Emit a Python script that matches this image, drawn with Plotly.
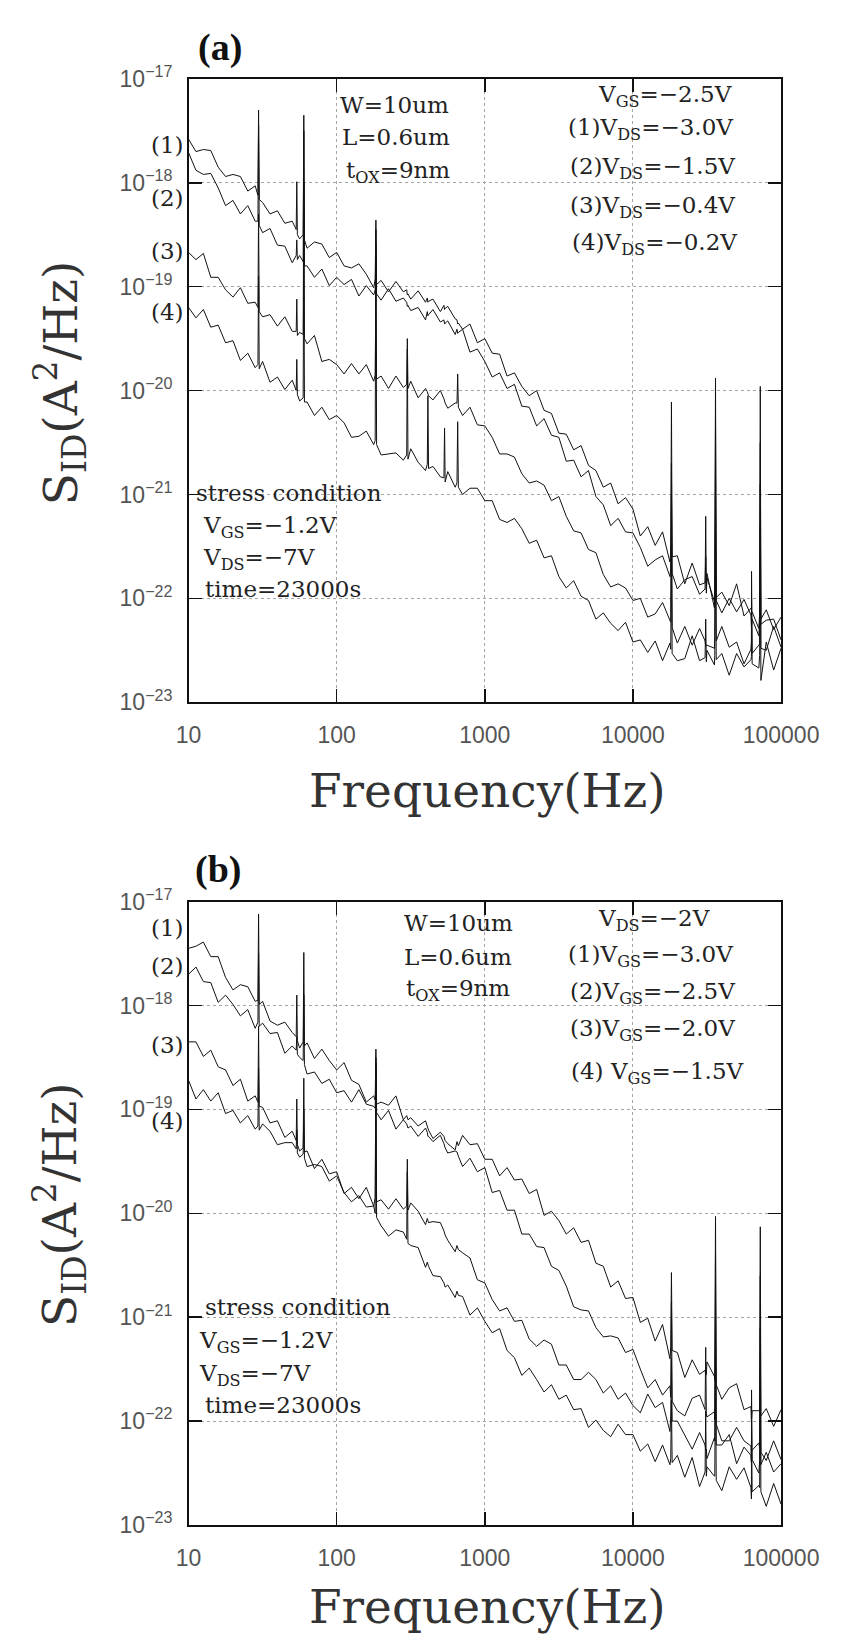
import plotly.graph_objects as go

# ---------------- data (log10 of S_ID in A^2/Hz) ----------------
FREQ = [10, 11.22, 12.59, 14.13, 15.85, 17.78, 19.95, 22.39, 25.12, 28.18,
        31.62, 35.48, 39.81, 44.67, 50.12, 56.23, 63.10, 70.79, 79.43, 89.13,
        100, 112.2, 125.9, 141.3, 158.5, 177.8, 199.5, 223.9, 251.2, 281.8,
        316.2, 354.8, 398.1, 446.7, 501.2, 562.3, 631.0, 707.9, 794.3, 891.3,
        1000, 1122, 1259, 1413, 1585, 1778, 1995, 2239, 2512, 2818,
        3162, 3548, 3981, 4467, 5012, 5623, 6310, 7079, 7943, 8913,
        10000, 11220, 12590, 14130, 15850, 17780, 19950, 22390, 25120, 28180,
        31620, 35480, 39810, 44670, 50120, 56230, 63100, 70790, 79430, 89130,
        100000]

SPIKE_FREQ = [29.4, 29.7, 30.0, 53.3, 53.8, 54.3, 59.4, 60.0, 60.6,
              182, 184, 186, 297, 300, 303, 409, 413, 417, 530, 535, 540,
              649, 656, 663, 18000, 18200, 18400, 30700, 31000, 31300,
              35700, 36100, 36500, 62600, 63200, 63800, 71700, 72400, 73100]

# panel (a): V_GS=-2.5V, (1) V_DS=-3.0V ... (4) V_DS=-0.2V
A1 = [-17.58, -17.70, -17.68, -17.69, -17.85, -17.94, -17.92, -17.94, -18.08, -18.03,
      -18.19, -18.30, -18.27, -18.39, -18.37, -18.54, -18.63, -18.57, -18.59, -18.72,
      -18.67, -18.80, -18.82, -18.78, -18.88, -19.01, -18.94, -19.05, -18.95, -19.05,
      -19.12, -19.04, -19.15, -19.12, -19.24, -19.19, -19.31, -19.41, -19.36, -19.54,
      -19.50, -19.64, -19.65, -19.86, -19.83, -19.96, -20.05, -20.00, -20.19, -20.22,
      -20.41, -20.42, -20.57, -20.53, -20.72, -20.77, -20.93, -20.89, -21.09, -21.03,
      -21.14, -21.40, -21.31, -21.49, -21.36, -21.65, -21.59, -21.86, -21.66, -21.87,
      -21.76, -22.09, -21.94, -22.07, -21.86, -22.17, -22.09, -22.29, -22.11, -22.30,
      -22.18]
A2 = [-17.71, -17.88, -17.92, -17.91, -18.05, -18.22, -18.17, -18.30, -18.22, -18.37,
      -18.48, -18.44, -18.60, -18.61, -18.77, -18.70, -18.80, -18.91, -18.83, -18.99,
      -18.91, -18.98, -18.93, -19.09, -18.99, -19.08, -19.13, -19.02, -19.14, -19.11,
      -19.23, -19.20, -19.32, -19.22, -19.34, -19.33, -19.46, -19.41, -19.63, -19.60,
      -19.72, -19.87, -19.83, -19.98, -19.94, -20.15, -20.16, -20.34, -20.27, -20.43,
      -20.45, -20.68, -20.67, -20.83, -20.77, -21.02, -21.10, -21.30, -21.23, -21.36,
      -21.37, -21.51, -21.69, -21.63, -21.59, -21.79, -21.91, -21.82, -21.79, -21.96,
      -21.80, -22.03, -22.14, -22.00, -22.13, -22.01, -22.27, -22.36, -22.21, -22.20,
      -22.40]
A3 = [-18.67, -18.74, -18.68, -18.91, -18.91, -19.03, -19.10, -19.01, -19.16, -19.15,
      -19.29, -19.27, -19.38, -19.29, -19.43, -19.44, -19.55, -19.47, -19.72, -19.70,
      -19.75, -19.84, -19.74, -19.84, -19.75, -19.91, -19.86, -19.98, -19.86, -19.97,
      -19.91, -20.07, -19.98, -20.09, -20.00, -20.17, -20.12, -20.24, -20.16, -20.33,
      -20.34, -20.45, -20.61, -20.61, -20.64, -20.80, -20.89, -20.87, -20.91, -21.06,
      -21.02, -21.21, -21.35, -21.37, -21.53, -21.56, -21.77, -21.89, -21.86, -21.90,
      -22.02, -22.00, -22.18, -22.15, -22.04, -22.20, -22.43, -22.27, -22.45, -22.29,
      -22.45, -22.48, -22.27, -22.47, -22.42, -22.63, -22.42, -22.45, -22.50, -22.27,
      -22.47]
A4 = [-19.20, -19.30, -19.22, -19.39, -19.37, -19.54, -19.52, -19.71, -19.64, -19.78,
      -19.72, -19.92, -19.87, -19.99, -19.90, -20.10, -20.11, -20.24, -20.16, -20.28,
      -20.24, -20.31, -20.45, -20.44, -20.39, -20.52, -20.62, -20.61, -20.60, -20.67,
      -20.56, -20.69, -20.77, -20.73, -20.83, -20.78, -20.93, -21.00, -20.94, -20.94,
      -21.06, -21.06, -21.24, -21.27, -21.23, -21.33, -21.47, -21.44, -21.61, -21.59,
      -21.79, -21.90, -21.83, -21.98, -22.02, -22.20, -22.14, -22.24, -22.31, -22.23,
      -22.42, -22.40, -22.52, -22.41, -22.60, -22.43, -22.60, -22.58, -22.36, -22.60,
      -22.50, -22.64, -22.53, -22.74, -22.53, -22.66, -22.56, -22.67, -22.42, -22.69,
      -22.48]

A1_SPK = [-18.12, -17.30, -18.16, -18.45, -17.99, -18.50, -18.50, -17.35, -18.55,
          -18.93, -18.36, -18.98, -19.03, -19.08, -19.07, -19.11, -19.15, -19.14,
          -19.18, -19.22, -19.21, -19.32, -19.36, -19.35, -21.55, -20.11, -21.60,
          -21.85, -21.60, -21.92, -21.94, -19.88, -21.99, -22.09, -22.14, -22.13,
          -22.15, -20.50, -22.20]
A2_SPK = [-18.37, -17.45, -18.41, -18.70, -18.55, -18.74, -18.76, -17.50, -18.80,
          -19.03, -18.60, -19.07, -19.15, -19.19, -19.18, -19.24, -19.28, -19.27,
          -19.32, -19.36, -19.35, -19.41, -19.45, -19.44, -21.71, -21.00, -21.76,
          -21.91, -21.21, -21.95, -21.98, -20.30, -22.02, -22.16, -22.20, -22.20,
          -22.21, -19.96, -22.25]
A3_SPK = [-19.20, -18.30, -19.24, -19.43, -19.12, -19.47, -19.46, -18.00, -19.50,
          -19.85, -19.00, -19.89, -19.94, -19.50, -19.98, -20.01, -20.05, -20.05,
          -20.08, -20.12, -20.12, -20.12, -19.84, -20.16, -22.23, -20.70, -22.28,
          -22.41, -22.46, -22.45, -22.37, -20.80, -22.41, -22.49, -21.74, -22.53,
          -22.44, -20.90, -22.48]
A4_SPK = [-19.75, -18.90, -19.79, -20.00, -19.70, -20.04, -20.07, -18.40, -20.11,
          -20.48, -18.45, -20.52, -20.62, -19.60, -20.66, -20.71, -20.05, -20.75,
          -20.84, -20.36, -20.88, -20.89, -20.30, -20.93, -22.49, -21.50, -22.53,
          -22.57, -22.20, -22.61, -22.55, -21.20, -22.59, -22.59, -22.00, -22.63,
          -22.55, -21.30, -22.79]

# panel (b): V_DS=-2V, (1) V_GS=-3.0V ... (4) V_GS=-1.5V
B1 = [-17.45, -17.43, -17.39, -17.53, -17.53, -17.73, -17.85, -17.80, -17.82, -17.96,
      -17.96, -18.15, -18.19, -18.16, -18.26, -18.41, -18.36, -18.51, -18.42, -18.53,
      -18.62, -18.55, -18.72, -18.76, -18.93, -18.87, -18.93, -18.96, -18.87, -19.10,
      -19.08, -19.16, -19.11, -19.28, -19.22, -19.33, -19.39, -19.25, -19.34, -19.33,
      -19.48, -19.48, -19.64, -19.56, -19.68, -19.67, -19.81, -19.77, -20.02, -19.98,
      -20.07, -20.20, -20.14, -20.28, -20.26, -20.48, -20.51, -20.71, -20.65, -20.82,
      -20.81, -21.05, -21.01, -21.23, -21.07, -21.40, -21.34, -21.58, -21.41, -21.55,
      -21.43, -21.57, -21.79, -21.68, -21.64, -21.89, -22.01, -21.90, -21.88, -22.05,
      -21.89]
B2 = [-17.70, -17.63, -17.77, -17.78, -17.97, -17.90, -17.99, -18.10, -18.04, -18.22,
      -18.17, -18.27, -18.26, -18.46, -18.39, -18.50, -18.66, -18.64, -18.75, -18.71,
      -18.84, -18.82, -18.93, -18.81, -18.95, -18.97, -19.10, -19.01, -19.19, -19.10,
      -19.16, -19.26, -19.18, -19.31, -19.25, -19.42, -19.40, -19.55, -19.47, -19.60,
      -19.56, -19.80, -19.78, -19.97, -19.97, -20.20, -20.20, -20.32, -20.33, -20.51,
      -20.55, -20.70, -20.90, -20.93, -20.94, -21.10, -21.19, -21.18, -21.20, -21.34,
      -21.31, -21.50, -21.68, -21.60, -21.75, -21.66, -21.90, -21.95, -21.78, -21.75,
      -21.96, -21.91, -22.19, -22.19, -22.06, -22.19, -22.39, -22.21, -22.38, -22.19,
      -22.37]
B3 = [-18.35, -18.35, -18.49, -18.43, -18.59, -18.62, -18.77, -18.71, -18.92, -18.87,
      -18.98, -19.13, -19.11, -19.27, -19.21, -19.40, -19.40, -19.57, -19.48, -19.62,
      -19.60, -19.81, -19.75, -19.86, -19.75, -19.93, -19.87, -19.96, -19.86, -19.96,
      -19.90, -19.98, -20.11, -20.08, -20.09, -20.26, -20.37, -20.38, -20.43, -20.64,
      -20.67, -20.83, -20.94, -20.91, -21.04, -21.03, -21.21, -21.28, -21.22, -21.26,
      -21.46, -21.46, -21.60, -21.60, -21.53, -21.60, -21.73, -21.66, -21.79, -21.73,
      -21.85, -21.92, -21.74, -21.87, -21.82, -22.10, -22.00, -22.13, -22.27, -22.11,
      -22.36, -22.16, -22.23, -22.13, -22.41, -22.25, -22.40, -22.50, -22.30, -22.49,
      -22.41]
B4 = [-18.72, -18.90, -18.81, -18.92, -18.84, -19.04, -19.01, -19.13, -19.06, -19.19,
      -19.14, -19.21, -19.34, -19.32, -19.32, -19.46, -19.55, -19.53, -19.55, -19.69,
      -19.64, -19.80, -19.89, -19.83, -19.94, -19.93, -20.12, -20.22, -20.16, -20.18,
      -20.31, -20.33, -20.52, -20.60, -20.61, -20.69, -20.81, -20.80, -20.98, -20.91,
      -21.04, -21.15, -21.11, -21.32, -21.39, -21.56, -21.49, -21.60, -21.72, -21.65,
      -21.79, -21.75, -21.89, -21.88, -22.06, -21.99, -22.09, -22.15, -22.03, -22.13,
      -22.13, -22.29, -22.22, -22.39, -22.23, -22.42, -22.33, -22.54, -22.35, -22.63,
      -22.44, -22.53, -22.67, -22.44, -22.56, -22.45, -22.75, -22.62, -22.82, -22.60,
      -22.80]

B1_SPK = [-17.95, -17.12, -17.99, -18.30, -17.90, -18.34, -18.35, -17.49, -18.39,
          -18.91, -18.42, -18.95, -19.06, -19.10, -19.10, -19.16, -19.20, -19.20,
          -19.26, -19.30, -19.30, -19.31, -19.35, -19.35, -21.28, -20.57, -21.32,
          -21.51, -21.56, -21.55, -21.61, -20.03, -21.65, -21.86, -21.91, -21.90,
          -21.91, -20.13, -21.95]
B2_SPK = [-18.16, -17.50, -18.20, -18.43, -18.30, -18.47, -18.53, -17.90, -18.57,
          -18.99, -18.55, -19.03, -19.14, -19.18, -19.18, -19.22, -19.26, -19.26,
          -19.33, -19.37, -19.37, -19.41, -19.45, -19.45, -21.77, -20.85, -21.81,
          -21.89, -21.29, -21.93, -21.99, -20.40, -22.03, -22.24, -22.29, -22.28,
          -22.26, -20.60, -22.30]
B3_SPK = [-18.93, -18.20, -18.97, -19.30, -18.90, -19.34, -19.37, -18.70, -19.41,
          -19.85, -18.50, -19.89, -19.93, -19.48, -19.97, -20.05, -20.09, -20.09,
          -20.17, -20.21, -20.21, -20.31, -20.35, -20.35, -21.96, -21.40, -22.00,
          -22.23, -22.28, -22.27, -22.19, -20.90, -22.23, -22.33, -21.70, -22.37,
          -22.38, -21.10, -22.42]
B4_SPK = [-19.16, -18.60, -19.20, -19.38, -19.20, -19.42, -19.43, -19.00, -19.47,
          -20.00, -18.60, -20.04, -20.25, -19.60, -20.29, -20.47, -20.51, -20.51,
          -20.67, -20.71, -20.71, -20.75, -20.79, -20.79, -22.36, -21.80, -22.40,
          -22.49, -21.90, -22.53, -22.53, -21.30, -22.57, -22.64, -22.00, -22.68,
          -22.64, -21.50, -22.68]

X_TICKS = [10, 100, 1000, 10000, 100000]
X_TICKTEXT = ["10", "100", "1000", "10000", "100000"]
Y_EXP = [-23, -22, -21, -20, -19, -18, -17]

# ---------------- figure ----------------
W, H = 868, 1646
def px(x): return x / W
def py(y): return 1 - y / H

fig = go.Figure()

panels = [
    ("x", "y", [(A1, A1_SPK), (A2, A2_SPK), (A3, A3_SPK), (A4, A4_SPK)]),
    ("x2", "y2", [(B1, B1_SPK), (B2, B2_SPK), (B3, B3_SPK), (B4, B4_SPK)]),
]
for xa, ya, series in panels:
    for base, spk in series:
        assert len(base) == len(FREQ) and len(spk) == len(SPIKE_FREQ)
        pts = sorted(zip(FREQ + SPIKE_FREQ, base + spk))
        fig.add_trace(go.Scatter(
            x=[f for f, _ in pts], y=[10 ** v for _, v in pts],
            mode="lines", line=dict(color="#111", width=1.0),
            xaxis=xa, yaxis=ya, showlegend=False, hoverinfo="skip"))

tickfont = dict(family="Liberation Sans", size=23, color="#555")
common = dict(type="log", showline=True, linecolor="#111", linewidth=1.5,
              mirror="ticks", ticks="inside", ticklen=13, tickwidth=1.5,
              tickcolor="#111", showgrid=True, gridcolor="#a5a5a5",
              griddash="dot", gridwidth=1, zeroline=False, tickfont=tickfont)

xdom = [186.5 / W, 816 / W]
xcfg = dict(common, range=[1, 5], tickvals=X_TICKS, ticktext=X_TICKTEXT,
            ticklabelstandoff=12)
ycfg = dict(common, range=[-23, -17], tickvals=[10 ** e for e in Y_EXP],
            ticktext=["10<sup>\u2212%d</sup>" % (-e) for e in Y_EXP],
            ticklabelstandoff=10)

fig.update_layout(
    width=W, height=H, margin=dict(l=0, r=0, t=0, b=0),
    paper_bgcolor="white", plot_bgcolor="white",
    xaxis=dict(xcfg, domain=xdom, anchor="y"),
    yaxis=dict(ycfg, domain=[py(698), py(63)], anchor="x"),
    xaxis2=dict(xcfg, domain=xdom, anchor="y2"),
    yaxis2=dict(ycfg, domain=[py(1536), py(901)], anchor="x2"),
)

serif = "DejaVu Serif"
ann_font = dict(family=serif, size=23, color="#222")
title_font = dict(family=serif, size=47, color="#333")

def txt(x, y, s, font=ann_font, xanchor="left", angle=0):
    fig.add_annotation(x=px(x), y=py(y), xref="paper", yref="paper", text=s,
                       showarrow=False, xanchor=xanchor, yanchor="middle",
                       font=font, textangle=angle)

# panel titles
pfont = dict(family="Liberation Serif", size=38, color="#111", weight="bold")
txt(220, 31, "(a)", pfont, "center")
txt(218, 868, "(b)", pfont, "center")

# axis titles
for yc, yx in ((373, 788), (1210, 1619)):
    txt(50, yc, "S<sub>ID</sub>(A<sup>2</sup>/Hz)", title_font, "center", -90)
    txt(504, yx, "Frequency(Hz)", title_font, "center")

# curve labels left of axes
for y, lab in ((130, "(1)"), (184, "(2)"), (238, "(3)"), (300, "(4)")):
    txt(184, y, lab, ann_font, "right")
for y, lab in ((928, "(1)"), (967, "(2)"), (1047, "(3)"), (1124, "(4)")):
    txt(184, y, lab, ann_font, "right")

# panel (a) text
txt(345, 90, "W=10um")
txt(347, 122, "L=0.6um")
txt(352, 158, "t<sub>OX</sub>=9nm")
txt(619, 80, "V<sub>GS</sub>=\u22122.5V")
txt(587, 114, "(1)V<sub>DS</sub>=\u22123.0V")
txt(590, 154, "(2)V<sub>DS</sub>=\u22121.5V")
txt(590, 194, "(3)V<sub>DS</sub>=\u22120.4V")
txt(592, 231, "(4)V<sub>DS</sub>=\u22120.2V")
txt(192, 485, "stress condition")
txt(200, 519, "V<sub>GS</sub>=\u22121.2V")
txt(200, 552, "V<sub>DS</sub>=\u22127V")
txt(202, 583, "time=23000s")

# panel (b) text
txt(413, 923, "W=10um")
txt(413, 957, "L=0.6um")
txt(415, 991, "t<sub>OX</sub>=9nm")
txt(619, 920, "V<sub>DS</sub>=\u22122V")
txt(587, 956, "(1)V<sub>GS</sub>=\u22123.0V")
txt(590, 994, "(2)V<sub>GS</sub>=\u22122.5V")
txt(590, 1032, "(3)V<sub>GS</sub>=\u22122.0V")
txt(591, 1076, "(4) V<sub>GS</sub>=\u22121.5V")
txt(202, 1314, "stress condition")
txt(195, 1350, "V<sub>GS</sub>=\u22121.2V")
txt(195, 1383, "V<sub>DS</sub>=\u22127V")
txt(202, 1414, "time=23000s")

fig.write_html("out.html",
               config={"displayModeBar": False, "staticPlot": True},
               post_script="document.body.style.margin='0';"
                           "document.body.style.overflow='hidden';")
